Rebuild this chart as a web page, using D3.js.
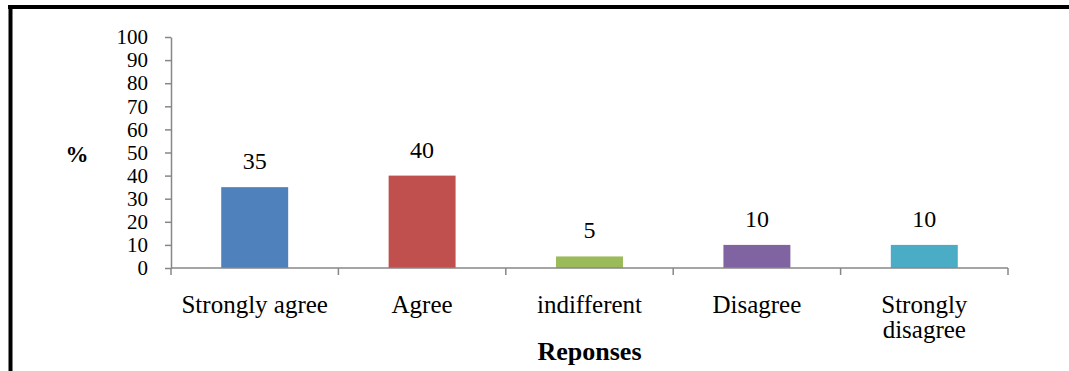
<!DOCTYPE html>
<html>
<head>
<meta charset="utf-8">
<script src="https://cdn.jsdelivr.net/npm/d3@7"></script>
<style>
  html, body { margin: 0; padding: 0; background: #fff; }
  svg { display: block; }
</style>
</head>
<body>
<svg id="chart" width="1069" height="371"></svg>
<script>
// Survey responses (%)
const categories = ["Strongly agree", "Agree", "indifferent", "Disagree", "Strongly disagree"];
const values = [35, 40, 5, 10, 10];
const colors = ["#4F81BD", "#C0504D", "#9BBB59", "#8064A2", "#4BACC6"];
const yTicks = [0, 10, 20, 30, 40, 50, 60, 70, 80, 90, 100];
const yLabel = "%";
const xLabel = "Reponses";

const FONT = "Liberation Serif, Times New Roman, DejaVu Serif, serif";

const svg = d3.select("#chart").attr("font-family", FONT);

// frame lines (top and left)
svg.append("rect").attr("x", 8).attr("y", 5).attr("width", 1061).attr("height", 4).attr("fill", "#000");
svg.append("rect").attr("x", 8.5).attr("y", 5).attr("width", 4).attr("height", 366).attr("fill", "#000");

const plot = { left: 171, right: 1008, top: 37, bottom: 268 };

const x = d3.scaleBand()
  .domain(categories)
  .range([plot.left, plot.right])
  .paddingInner(0.6)
  .paddingOuter(0.3);

const y = d3.scaleLinear().domain([0, 100]).range([plot.bottom, plot.top]);

const axisColor = "#878787";

// y axis
const yAxis = svg.append("g")
  .attr("transform", `translate(${plot.left},0)`)
  .call(d3.axisLeft(y).tickValues(yTicks).tickSize(6).tickPadding(17).tickSizeOuter(0))
  .attr("font-family", FONT)
  .attr("font-size", 21);
yAxis.select(".domain").attr("stroke", axisColor).attr("stroke-width", 1.5);
yAxis.selectAll(".tick line").attr("stroke", axisColor).attr("stroke-width", 1.5);
yAxis.selectAll(".tick text").attr("fill", "#000");

// bars
svg.append("g").selectAll("rect")
  .data(values)
  .join("rect")
  .attr("x", (d, i) => x(categories[i]))
  .attr("width", x.bandwidth())
  .attr("y", d => y(d))
  .attr("height", d => y(0) - y(d))
  .attr("fill", (d, i) => colors[i]);

// x axis: baseline with tick marks at the category boundaries
const step = x.step();
const boundaries = d3.range(categories.length + 1).map(i => plot.left + i * step);
const xg = svg.append("g");
xg.append("line")
  .attr("x1", plot.left).attr("x2", plot.right)
  .attr("y1", y(0)).attr("y2", y(0))
  .attr("stroke", axisColor).attr("stroke-width", 1.5);
xg.selectAll("line.tk")
  .data(boundaries)
  .join("line")
  .attr("class", "tk")
  .attr("x1", d => d).attr("x2", d => d)
  .attr("y1", y(0)).attr("y2", y(0) + 7)
  .attr("stroke", axisColor).attr("stroke-width", 1.5);

// value labels
svg.append("g").selectAll("text")
  .data(values)
  .join("text")
  .attr("x", (d, i) => x(categories[i]) + x.bandwidth() / 2)
  .attr("y", d => y(d) - 18)
  .attr("text-anchor", "middle")
  .attr("font-size", 24)
  .text(d => d);

// category labels, wrapped to the band step
const maxWidth = step - 8;
svg.append("g").selectAll("text")
  .data(categories)
  .join("text")
  .attr("text-anchor", "middle")
  .attr("font-size", 25)
  .each(function (d) {
    const t = d3.select(this);
    const cx = x(d) + x.bandwidth() / 2;
    const words = d.split(" ");
    const lines = [];
    let line = [];
    const probe = t.append("tspan");
    words.forEach(w => {
      const attempt = line.concat([w]).join(" ");
      probe.text(attempt);
      if (probe.node().getComputedTextLength() > maxWidth && line.length) {
        lines.push(line.join(" "));
        line = [w];
      } else {
        line.push(w);
      }
    });
    lines.push(line.join(" "));
    probe.remove();
    lines.forEach((l, i) => {
      t.append("tspan").attr("x", cx).attr("y", 313 + i * 25).text(l);
    });
  });

// axis titles
svg.append("text")
  .attr("x", (plot.left + plot.right) / 2)
  .attr("y", 360)
  .attr("text-anchor", "middle")
  .attr("font-size", 26)
  .attr("font-weight", "bold")
  .text(xLabel);

svg.append("text")
  .attr("x", 77)
  .attr("y", 162)
  .attr("text-anchor", "middle")
  .attr("font-size", 23)
  .attr("font-weight", "bold")
  .text(yLabel);
</script>
</body>
</html>
